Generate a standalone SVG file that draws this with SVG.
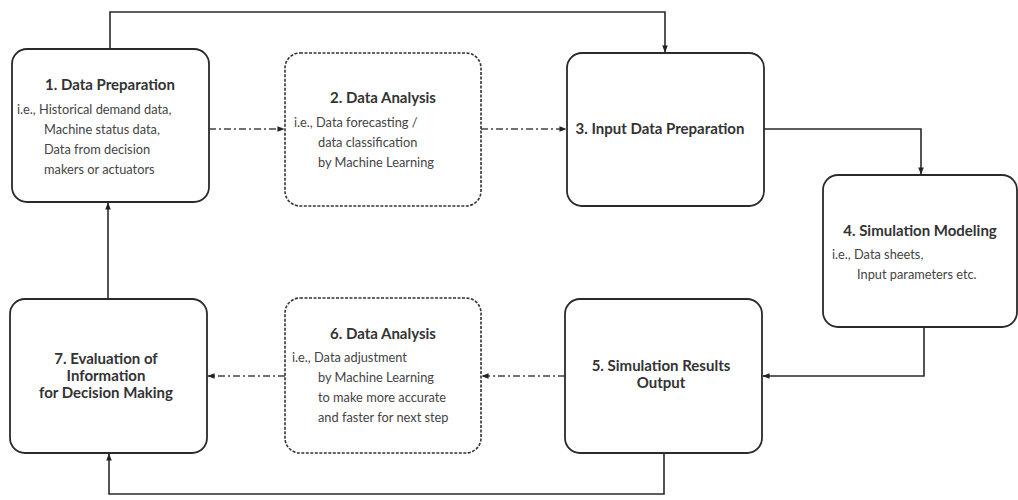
<svg xmlns="http://www.w3.org/2000/svg" width="1018" height="500" viewBox="0 0 1018 500">
<defs>
<marker id="ah" viewBox="0 0 8 8" refX="7.5" refY="4" markerWidth="7" markerHeight="7" markerUnits="userSpaceOnUse" orient="auto">
<path d="M0,0.8 L8,4 L0,7.2 Z" fill="#222"/>
</marker>
<style>
.box{fill:#fff;stroke:#2a2a2a;stroke-width:1.8}
.dbox{fill:#fff;stroke:#333;stroke-width:1.6;stroke-dasharray:3 1.5}
.ln{fill:none;stroke:#2a2a2a;stroke-width:1.6}
.dl{fill:none;stroke:#444;stroke-width:1.5;stroke-dasharray:7 3 2 3}
.t{font-family:Lato,"Liberation Sans",sans-serif;font-weight:bold;font-size:15px;fill:#333}
.s{font-family:Lato,"Liberation Sans",sans-serif;font-size:12.8px;fill:#444}
</style>
</defs>
<rect width="1018" height="500" fill="#fff"/>
<g id="connectors">
<path class="ln" d="M110,49 V12 H665 V52" marker-end="url(#ah)"/>
<path class="dl" d="M209,129 H284" marker-end="url(#ah)"/>
<path class="dl" d="M481,129 H566" marker-end="url(#ah)"/>
<path class="ln" d="M764,129 H921 V174" marker-end="url(#ah)"/>
<path class="ln" d="M924,327 V376 H763" marker-end="url(#ah)"/>
<path class="dl" d="M565,376 H482" marker-end="url(#ah)"/>
<path class="dl" d="M285,376 H208" marker-end="url(#ah)"/>
<path class="ln" d="M664,453 V494 H109 V454" marker-end="url(#ah)"/>
<path class="ln" d="M108,299 V203" marker-end="url(#ah)"/>
</g>
<g id="node1">
<rect class="box" x="12" y="49" width="197" height="153" rx="15"/>
<text class="t" x="110" y="90" text-anchor="middle">1. Data Preparation</text>
<text class="s" x="17" y="114">i.e., Historical demand data,</text>
<text class="s" x="44" y="134">Machine status data,</text>
<text class="s" x="44" y="154">Data from decision</text>
<text class="s" x="44" y="174">makers or actuators</text>
</g>
<g id="node2">
<rect class="dbox" x="285" y="53" width="196" height="153" rx="15"/>
<text class="t" x="383" y="103" text-anchor="middle">2. Data Analysis</text>
<text class="s" x="294" y="127">i.e., Data forecasting /</text>
<text class="s" x="318" y="147">data classification</text>
<text class="s" x="318" y="167">by Machine Learning</text>
</g>
<g id="node3">
<rect class="box" x="567" y="53" width="197" height="153" rx="15"/>
<text class="t" x="660" y="134" text-anchor="middle">3. Input Data Preparation</text>
</g>
<g id="node4">
<rect class="box" x="823" y="175" width="194" height="152" rx="15"/>
<text class="t" x="920" y="236" text-anchor="middle">4. Simulation Modeling</text>
<text class="s" x="832" y="259">i.e., Data sheets,</text>
<text class="s" x="857" y="279">Input parameters etc.</text>
</g>
<g id="node5">
<rect class="box" x="565" y="299" width="197" height="154" rx="15"/>
<text class="t" x="661" y="371" text-anchor="middle">5. Simulation Results</text>
<text class="t" x="661" y="388" text-anchor="middle">Output</text>
</g>
<g id="node6">
<rect class="dbox" x="285" y="298" width="196" height="155" rx="15"/>
<text class="t" x="383" y="339" text-anchor="middle">6. Data Analysis</text>
<text class="s" x="292" y="362">i.e., Data adjustment</text>
<text class="s" x="318" y="382">by Machine Learning</text>
<text class="s" x="318" y="402">to make more accurate</text>
<text class="s" x="318" y="422">and faster for next step</text>
</g>
<g id="node7">
<rect class="box" x="10" y="299" width="197" height="154" rx="15"/>
<text class="t" x="106" y="364" text-anchor="middle">7. Evaluation of</text>
<text class="t" x="106" y="381" text-anchor="middle">Information</text>
<text class="t" x="106" y="398" text-anchor="middle">for Decision Making</text>
</g>
</svg>
